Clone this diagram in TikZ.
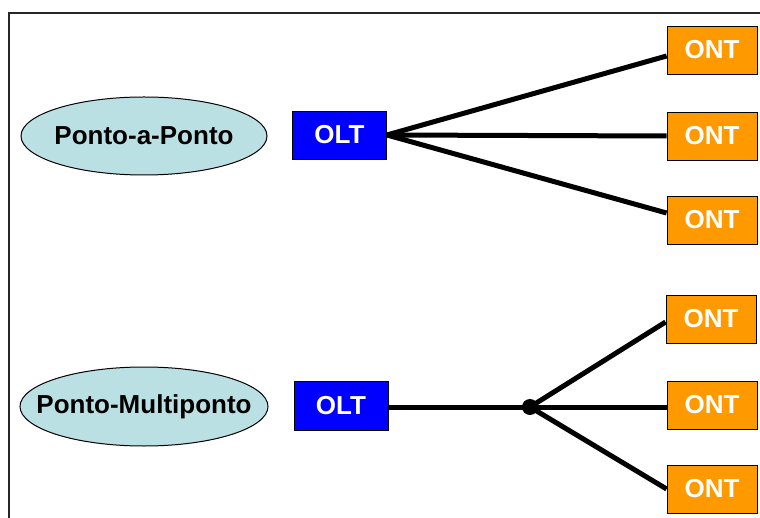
\documentclass[tikz,border=0pt]{standalone}
\usepackage{fontspec}
\setmainfont{Liberation Sans}
\definecolor{oltblue}{RGB}{0,0,255}
\definecolor{ontorange}{RGB}{255,153,0}
\definecolor{ovalfill}{RGB}{187,224,227}
\tikzset{
  ovaltext/.style={inner sep=0pt, font=\fontsize{26}{30}\selectfont\bfseries, text=black},
  ovalshape/.style={draw=black, line width=1pt, fill=ovalfill},
  oltbox/.style={rectangle, draw=black, line width=0.8pt, fill=oltblue, inner sep=0pt,
    minimum width=94pt, minimum height=48pt, font=\fontsize{26}{30}\selectfont\bfseries, text=white},
  ontbox/.style={rectangle, draw=black, line width=0.8pt, fill=ontorange, inner sep=0pt,
    minimum width=90pt, minimum height=48pt, font=\fontsize{26}{30}\selectfont\bfseries, text=white},
  link/.style={line width=5pt, draw=black},
  frameline/.style={line width=1.5pt, draw=black!85}
}
\begin{document}
\begin{tikzpicture}[x=1pt, y=-1pt]
  \useasboundingbox (0,0) rectangle (760,518);
  % outer frame (top and left edges)
  \draw[frameline] (9,530) -- (9,13) -- (775,13);

  % point-to-point section
  \path[ovalshape] (144,136) ellipse [x radius=123pt, y radius=39pt];
  \node[ovaltext] (pp) at (144,136) {Ponto-a-Ponto};
  \node[oltbox] (olt1) at (339.5,135) {OLT};
  \node[ontbox] (ont1) at (712,50) {ONT};
  \node[ontbox] (ont2) at (712,136) {ONT};
  \node[ontbox] (ont3) at (712,220) {ONT};
  \draw[link] (olt1.east) -- ([yshift=-6pt]ont1.west);
  \draw[link] (olt1.east) -- (ont2.west);
  \draw[link] (olt1.east) -- ([yshift=7pt]ont3.west);

  % point-to-multipoint section
  \path[ovalshape] (144,406.5) ellipse [x radius=124pt, y radius=39.5pt];
  \node[ovaltext] (pm) at (144,406.5) {Ponto-Multiponto};
  \node[oltbox, minimum height=49pt] (olt2) at (341,405.5) {OLT};
  \node[ontbox] (ont4) at (711,319) {ONT};
  \node[ontbox] (ont5) at (712,405) {ONT};
  \node[ontbox] (ont6) at (712,489) {ONT};
  \coordinate (split) at (530,407);
  \draw[link] (olt2.east |- split) -- (split);
  \draw[link] (split) -- ([yshift=-3pt]ont4.west);
  \draw[link] (split) -- (ont5.west |- split);
  \draw[link] (split) -- (ont6.west);
  \fill[black] (split) circle (8pt);
\end{tikzpicture}
\end{document}
